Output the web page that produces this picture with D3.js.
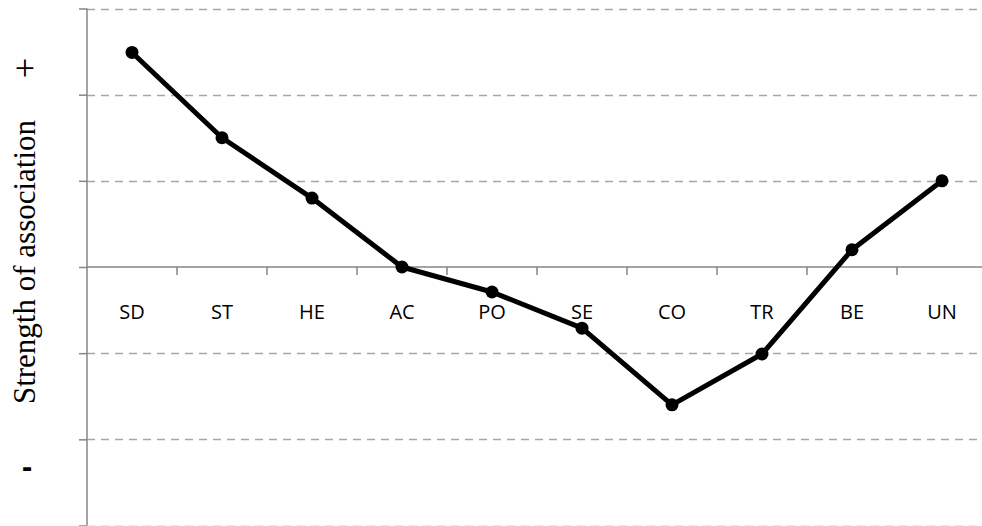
<!DOCTYPE html>
<html><head><meta charset="utf-8">
<script src="https://cdn.jsdelivr.net/npm/d3@7"></script>
<style>body{margin:0;background:#fff}svg{display:block}</style>
</head><body>
<svg id="c" width="982" height="526"></svg>
<script>
const categories = ["SD","ST","HE","AC","PO","SE","CO","TR","BE","UN"];
const values = [2.49, 1.5, 0.8, 0, -0.29, -0.71, -1.6, -1.01, 0.2, 1.0];
const yTicks = [-3,-2,-1,0,1,2,3];

const svg = d3.select("#c");
const x0 = 87, x1 = 987, yTop = 8.5, yBot = 525.5;
const x = d3.scaleBand().domain(categories).range([x0, x1]);
const y = d3.scaleLinear().domain([-3, 3]).range([yBot, yTop]);

// gridlines (dashed) except zero line
svg.append("g").selectAll("line").data(yTicks.filter(d => d !== 0)).join("line")
  .attr("x1", 87).attr("x2", 980)
  .attr("y1", d => Math.round(y(d)) + 0.5).attr("y2", d => Math.round(y(d)) + 0.5)
  .attr("stroke", "#a6a6a6").attr("stroke-width", 1.3).attr("stroke-dasharray", "8,6");

// y axis with ticks to the left
const yAxis = svg.append("g").attr("transform", `translate(${x0},0)`)
  .call(d3.axisLeft(y).tickValues(yTicks).tickSize(8).tickFormat(""));
yAxis.selectAll("path,line").attr("stroke", "#868686").attr("stroke-width", 1.5);
yAxis.select("path").attr("d", `M0,${yTop}V${yBot}`);

// x axis at zero with ticks at band boundaries
const xAxisG = svg.append("g").attr("transform", `translate(0,${y(0)})`);
xAxisG.append("line").attr("x1", x0).attr("x2", 982).attr("stroke", "#868686").attr("stroke-width", 1.5);
xAxisG.selectAll("line.t").data(categories.slice(1)).join("line").attr("class","t")
  .attr("x1", d => x(d)).attr("x2", d => x(d)).attr("y1", 0).attr("y2", 8)
  .attr("stroke", "#868686").attr("stroke-width", 1.5);
xAxisG.selectAll("text").data(categories).join("text")
  .attr("x", d => x(d) + x.bandwidth()/2).attr("y", 52)
  .attr("text-anchor", "middle")
  .attr("font-family", "'Open Sans', sans-serif").attr("font-size", 20)
  .attr("fill", "#000").text(d => d);

// line
const line = d3.line().x((d,i) => x(categories[i]) + x.bandwidth()/2).y(d => y(d));
svg.append("path").datum(values).attr("d", line)
  .attr("fill", "none").attr("stroke", "#000").attr("stroke-width", 5).attr("stroke-linejoin", "round");
svg.append("g").selectAll("circle").data(values).join("circle")
  .attr("cx", (d,i) => x(categories[i]) + x.bandwidth()/2).attr("cy", d => y(d))
  .attr("r", 6.5).attr("fill", "#000");

// y title
svg.append("text").attr("transform", "translate(35,262) rotate(-90)")
  .attr("text-anchor", "middle").attr("font-family", "'Liberation Serif', 'Times New Roman', serif")
  .attr("font-size", 31).attr("fill", "#000").text("Strength of association");
svg.append("text").attr("x", 25).attr("y", 80).attr("text-anchor", "middle")
  .attr("font-family", "'Liberation Serif', serif").attr("font-size", 36).attr("fill", "#000").text("+");
svg.append("text").attr("x", 27).attr("y", 477).attr("text-anchor", "middle")
  .attr("font-family", "'Open Sans', sans-serif").attr("font-weight", "bold").attr("font-size", 30).attr("fill", "#000").text("-");
</script>
</body></html>
